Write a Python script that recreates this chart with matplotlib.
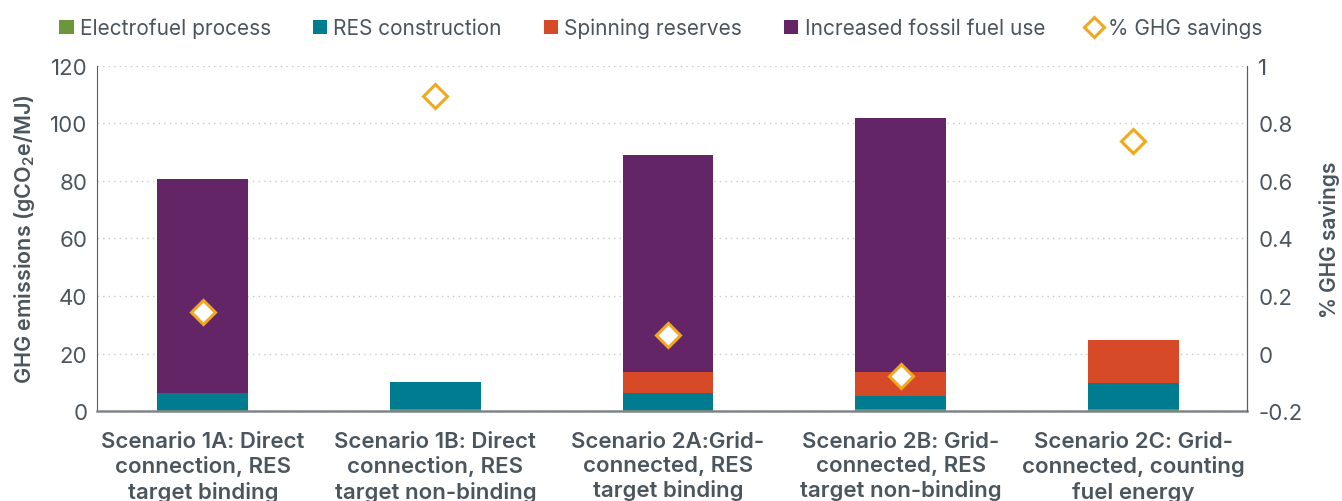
import matplotlib.pyplot as plt
import numpy as np
from matplotlib.lines import Line2D
from matplotlib.patches import Patch

plt.rcParams['font.family'] = ['Inter', 'DejaVu Sans']
plt.rcParams['mathtext.default'] = 'regular'

scenarios = ['Scenario 1A: Direct\nconnection, RES\ntarget binding',
             'Scenario 1B: Direct\nconnection, RES\ntarget non-binding',
             'Scenario 2A:Grid-\nconnected, RES\ntarget binding',
             'Scenario 2B: Grid-\nconnected, RES\ntarget non-binding',
             'Scenario 2C: Grid-\nconnected, counting\nfuel energy']
electrofuel = [0.5, 0.8, 0.5, 0.8, 0.8]
res_construction = [5.8, 9.3, 5.8, 4.4, 9.0]
spinning = [0.0, 0.0, 7.3, 8.5, 14.9]
fossil = [74.4, 0.0, 75.4, 88.3, 0.0]
ghg_savings = [0.144, 0.894, 0.063, -0.077, 0.74]

series = [('Electrofuel process', electrofuel, '#6a973b'),
          ('RES construction', res_construction, '#007c91'),
          ('Spinning reserves', spinning, '#d64a28'),
          ('Increased fossil fuel use', fossil, '#642566')]

text_col = '#4b555e'
fig = plt.figure(figsize=(13.42, 5.02), dpi=100)
ax = fig.add_axes([0.0723, 0.179, 0.857, 0.688])
x = np.arange(len(scenarios))
bottom = np.zeros(len(scenarios))
for name, vals, col in series:
    ax.bar(x, vals, 0.39, bottom=bottom, color=col, zorder=2)
    bottom += np.array(vals)

ax.set_xlim(-0.455, 4.49)
ax.set_ylim(0, 120)
ax.set_yticks(range(0, 121, 20))
ax.grid(axis='y', linestyle=(0, (1, 3)), color='#c4c8cc', linewidth=1, zorder=0)
ax.set_xticks(x)
ax.set_xticklabels(scenarios, fontsize=15, fontweight='semibold', color=text_col, linespacing=1.27)
ax.tick_params(axis='both', length=0, labelsize=16, colors=text_col, pad=7)
ax.tick_params(axis='x', pad=14)
ax.spines['top'].set_visible(False)
ax.spines['left'].set_color('#555e66')
ax.spines['right'].set_color('#555e66')
ax.spines['bottom'].set_color('#7d858c')
ax.spines['bottom'].set_linewidth(1.8)
ax.set_ylabel('GHG emissions (gCO$_2$e/MJ)', fontsize=15.5, fontweight='semibold', color=text_col, labelpad=9)

ax2 = ax.twinx()
ax2.set_ylim(-0.2, 1.0)
ax2.set_yticks([-0.2, 0, 0.2, 0.4, 0.6, 0.8, 1])
ax2.set_yticklabels(['-0.2', '0', '0.2', '0.4', '0.6', '0.8', '1'])
ax2.tick_params(axis='y', length=0, labelsize=16, colors=text_col, pad=8)
for s in ['top', 'left', 'bottom']:
    ax2.spines[s].set_visible(False)
ax2.spines['right'].set_color('#555e66')
ax2.plot(x, ghg_savings, linestyle='none', marker='D', markersize=12.5,
         markerfacecolor='white', markeredgecolor='#f2a81d', markeredgewidth=2.2, zorder=3)
ax2.set_ylabel('% GHG savings', fontsize=15, fontweight='semibold', color=text_col, labelpad=12)

handles = [Patch(facecolor=col, label=name) for name, vals, col in series]
handles.append(Line2D([], [], linestyle='none', marker='D', markersize=10, markerfacecolor='white',
                      markeredgecolor='#f2a81d', markeredgewidth=2.2, label='% GHG savings'))
fig.legend(handles=handles, loc='upper left', bbox_to_anchor=(0.03, 1.0), ncol=5, frameon=False,
           fontsize=15, handlelength=0.7, handleheight=0.7, handletextpad=0.3, columnspacing=2.0,
           labelcolor=text_col)

fig.savefig('out.png', dpi=100)
